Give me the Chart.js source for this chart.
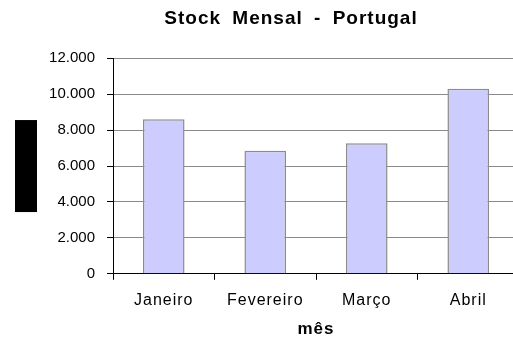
<!DOCTYPE html>
<html>
<head>
<meta charset="utf-8">
<title>Stock Mensal - Portugal</title>
<script src="https://cdn.jsdelivr.net/npm/chart.js@4/dist/chart.umd.min.js"></script>
<style>
  html, body { margin: 0; padding: 0; background: #fff; overflow: hidden; }
  #wrap { position: relative; width: 582px; height: 338px; }
</style>
</head>
<body>
<div id="wrap"><canvas id="stockChart"></canvas></div>
<script>
// monthly stock, Portugal
const meses = ["Janeiro", "Fevereiro", "Março", "Abril"];
const stock = [8600, 6850, 7270, 10300];
const yMin = 0;
const yMax = 12000;
const yStep = 2000;

const fontFamily = "'Liberation Sans', Arial, sans-serif";

// 12000 -> "12.000"
function formatMilhares(v) {
  return String(v).replace(/\B(?=(\d{3})+(?!\d))/g, ".");
}

// spaced-out text for title, month labels and "mês";
// the y tick labels sit on z:1 (drawn after the bars) with normal spacing
const espacamento = {
  id: "espacamento",
  beforeDraw(chart) {
    chart.ctx.wordSpacing = "5px";
    chart.ctx.letterSpacing = "1px";
  },
  afterDatasetsDraw(chart) {
    chart.ctx.wordSpacing = "0px";
    chart.ctx.letterSpacing = "0px";
  },
  afterDraw(chart) {
    chart.ctx.wordSpacing = "0px";
    chart.ctx.letterSpacing = "0px";
  }
};

// the y-axis title is covered by a solid block
const blocoTitulo = {
  id: "blocoTitulo",
  afterDraw(chart) {
    const ctx = chart.ctx;
    const area = chart.chartArea;
    const mid = (area.top + area.bottom) / 2;
    ctx.save();
    ctx.fillStyle = "#000";
    ctx.fillRect(15, mid - 46, 22, 92);
    ctx.restore();
  }
};

const ctx = document.getElementById("stockChart").getContext("2d");
new Chart(ctx, {
  type: "bar",
  data: {
    labels: meses,
    datasets: [{
      data: stock,
      backgroundColor: "#ccccff",
      borderColor: "#8c8c8c",
      borderWidth: 1.5,
      categoryPercentage: 1,
      barPercentage: 0.41
    }]
  },
  options: {
    responsive: true,
    maintainAspectRatio: false,
    animation: false,
    layout: { padding: { left: 0, right: 0, top: 0, bottom: 0 } },
    plugins: {
      legend: { display: false },
      tooltip: { enabled: false },
      title: {
        display: true,
        text: "Stock Mensal - Portugal",
        color: "#000",
        font: { family: fontFamily, size: 19, weight: "bold" },
        padding: { top: 7.5, bottom: 28 }
      }
    },
    scales: {
      x: {
        grid: {
          offset: true,
          drawOnChartArea: false,
          drawTicks: true,
          tickLength: 6,
          tickColor: "#000"
        },
        border: { color: "#000", width: 1 },
        ticks: {
          color: "#000",
          padding: 11,
          maxRotation: 0,
          font: { family: fontFamily, size: 16 }
        },
        title: {
          display: true,
          text: "mês",
          color: "#000",
          font: { family: fontFamily, size: 17, weight: "bold", lineHeight: 1 },
          padding: { top: 0, bottom: 0 }
        }
      },
      y: {
        min: yMin,
        max: yMax,
        afterFit(scale) { scale.width = 113; },
        grid: {
          color: "#8a8a8a",
          lineWidth: 1,
          drawTicks: true,
          tickLength: 6,
          tickColor: "#000"
        },
        border: { color: "#000", width: 1 },
        ticks: {
          z: 1,
          stepSize: yStep,
          color: "#000",
          padding: 12,
          font: { family: fontFamily, size: 15 },
          callback: (v) => formatMilhares(v)
        }
      },
      // empty strip on the right, past the visible edge
      margemDireita: {
        type: "linear",
        position: "right",
        afterFit(scale) { scale.width = 63; },
        ticks: { display: false },
        grid: { display: false },
        border: { display: false }
      }
    }
  },
  plugins: [espacamento, blocoTitulo]
});
</script>
</body>
</html>
